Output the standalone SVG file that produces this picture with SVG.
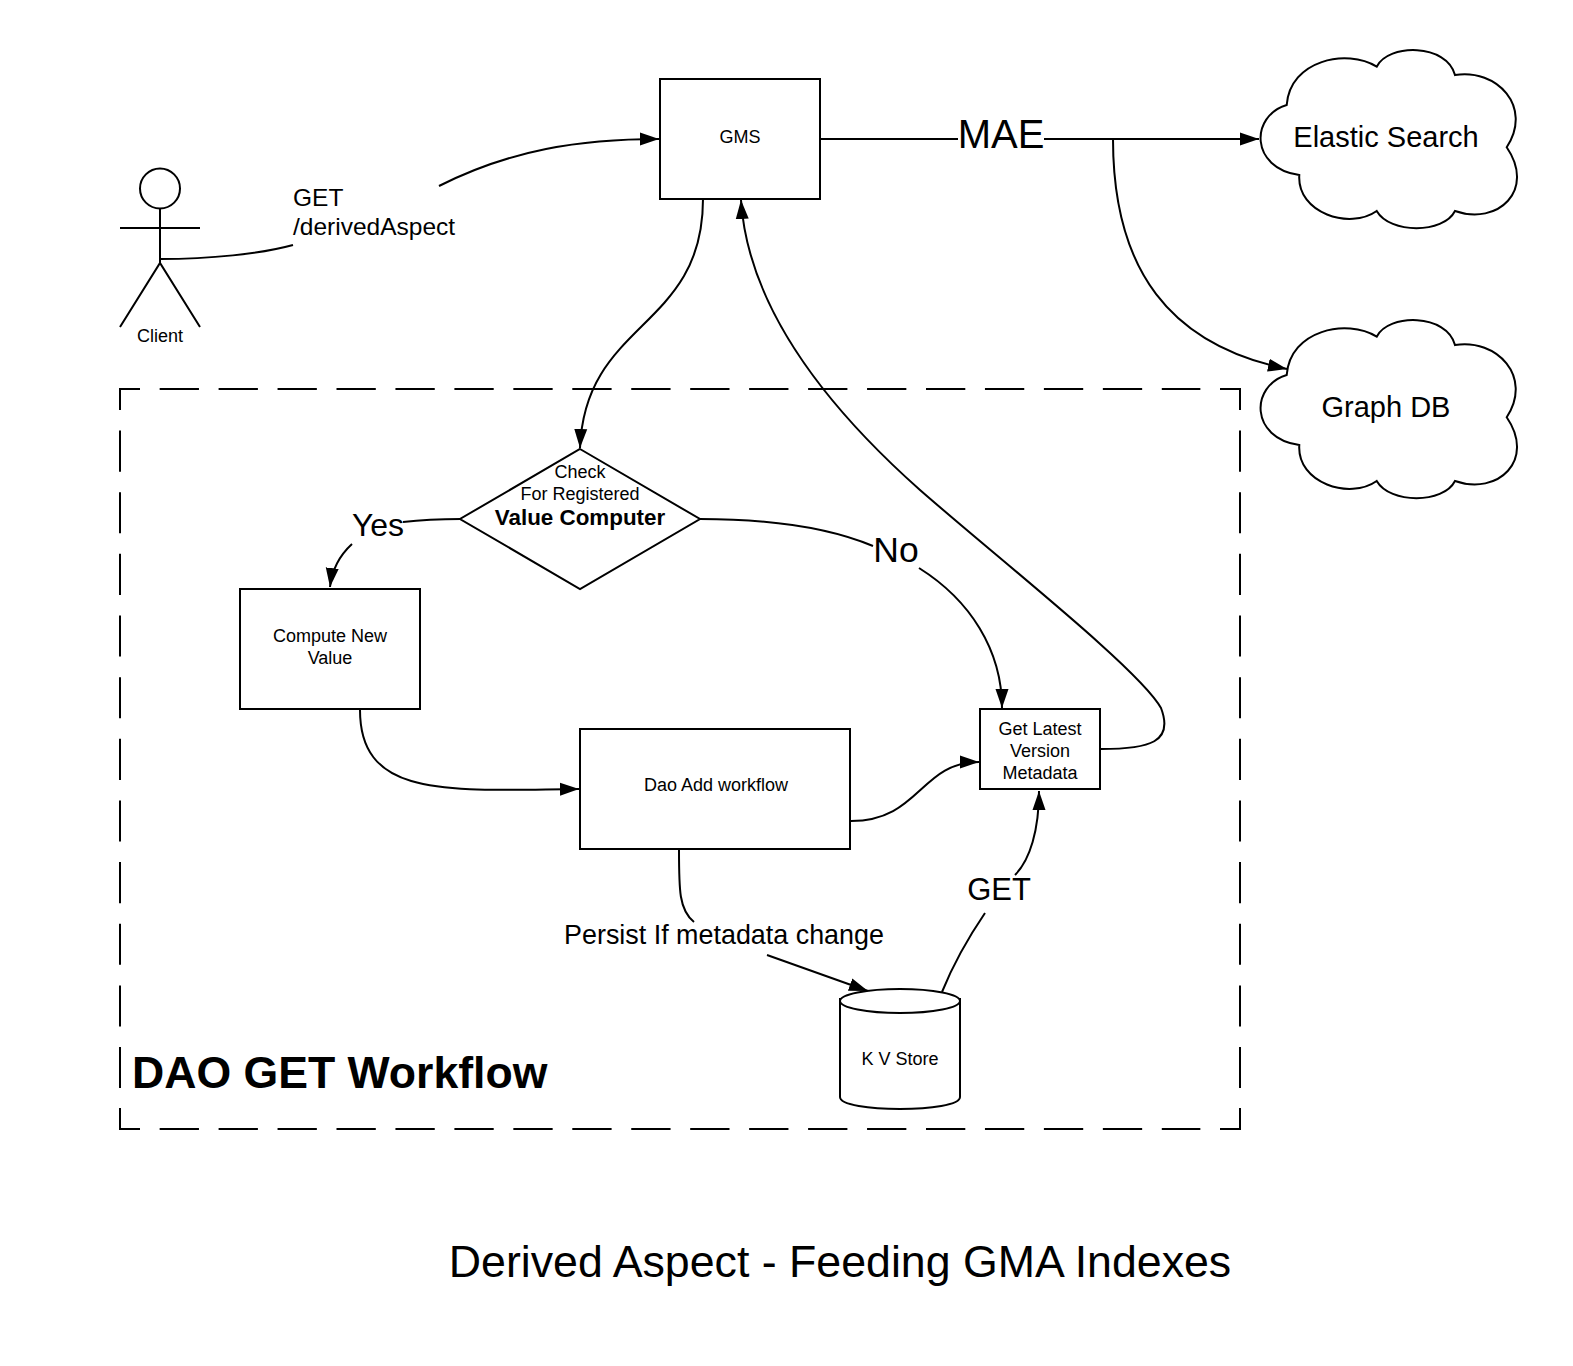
<svg xmlns="http://www.w3.org/2000/svg" width="1573" height="1366" viewBox="0 0 1573 1366">
<style>
text{font-family:"Liberation Sans",Arial,sans-serif;fill:#000;text-anchor:middle}
.s{fill:#fff;stroke:#000;stroke-width:2}
.n{fill:none;stroke:#000;stroke-width:2}
.h{stroke-dasharray:39.3 19.65}
.v{stroke-dasharray:41.1 20.55}
.c{fill:none;stroke:#000;stroke-width:2;marker-end:url(#a)}
.p{fill:none;stroke:#000;stroke-width:2}
.t{font-size:18px}
.l{font-size:24.5px;text-anchor:start}
</style>
<defs>
<marker id="a" markerUnits="userSpaceOnUse" markerWidth="20" markerHeight="14" refX="19" refY="7" orient="auto"><path d="M0 0.5L19 7L0 13.5Z" fill="#000"/></marker>
<path id="cl" d="M1286.7 105C1290 60 1346.7 48.3 1376.7 66.7C1388.3 43.3 1446.7 43.3 1455 75C1496.7 68.3 1533.3 106.7 1506.7 147.3C1536 190 1498 226 1455 211C1443.3 234 1390 234 1376.7 211C1350 230 1296.7 213.3 1299.3 175C1250 168 1250 116 1286.7 105Z"/>
</defs>
<g id="frame">
<path class="n" d="M140 389H120V410M1220 389H1240V410M120 1108V1129H140M1240 1108V1129H1220"/>
<path class="n h" d="M159.65 389H1200.35M159.65 1129H1200.35"/>
<path class="n v" d="M120 430.55V1088M1240 430.55V1088"/>
</g>
<g id="connectors">
<path class="p" d="M160 259C210 259 260 254 293 245"/>
<path class="c" d="M439 186C510 150 580 139 659 139"/>
<path class="p" d="M820 139H958"/>
<path class="c" d="M1044 139H1259"/>
<path class="c" d="M1113 139C1113 270 1170 345 1287 369"/>
<path class="c" d="M703 199C703 330 585 320 580 448"/>
<path class="p" d="M461 519C440 519 420 520 403 522"/>
<path class="c" d="M352 544C340 555 332 570 330 587"/>
<path class="p" d="M700 519C770 519 830 528 873 546"/>
<path class="c" d="M919 568C970 600 1002 650 1002 708"/>
<path class="c" d="M360 710C360 800 450 790 579 789"/>
<path class="c" d="M851 821C920 821 920 762 979 762"/>
<path class="c" d="M1101 749C1150 749 1174 742 1161 708C1140 670 1000 560 920 490C830 410 748 310 741 200"/>
<path class="p" d="M679 850C679 890 679 910 694 922"/>
<path class="c" d="M767 955L868 991"/>
<path class="p" d="M942 992C955 960 970 935 985 913"/>
<path class="c" d="M1015 875C1030 860 1039 830 1039 791"/>
</g>
<g id="client">
<circle class="n" cx="160" cy="188.500" r="20"/>
<path class="n" d="M160 208V263M120 228H200M120 327L160 263L200 327"/>
<text class="t" x="160" y="342">Client</text>
</g>
<g id="gms"><rect class="s" x="660" y="79" width="160" height="120"/><text class="t" x="740" y="143">GMS</text></g>
<g id="elastic"><use href="#cl" class="s"/><text x="1386" y="147" font-size="29">Elastic Search</text></g>
<g id="graph"><use href="#cl" class="s" y="270"/><text x="1386" y="417" font-size="29">Graph DB</text></g>
<g id="decision"><path class="s" d="M580 449L700 519L580 589L460 519Z"/>
<text class="t" x="580" y="478">Check</text><text class="t" x="580" y="500">For Registered</text><text x="580" y="525" font-size="22.400" font-weight="700">Value Computer</text></g>
<g id="compute"><rect class="s" x="240" y="589" width="180" height="120"/><text class="t"><tspan x="330" y="642">Compute New</tspan><tspan x="330" y="664">Value</tspan></text></g>
<g id="dao"><rect class="s" x="580" y="729" width="270" height="120"/><text class="t" x="716" y="791">Dao Add workflow</text></g>
<g id="latest"><rect class="s" x="980" y="709" width="120" height="80"/><text class="t"><tspan x="1040" y="735">Get Latest</tspan><tspan x="1040" y="757">Version</tspan><tspan x="1040" y="779">Metadata</tspan></text></g>
<g id="kv"><path class="s" d="M840 999V1097C840 1113 960 1113 960 1097V999Z"/><ellipse class="s" cx="900" cy="1001" rx="60" ry="12"/><text class="t" x="900" y="1065">K V Store</text></g>
<g id="labels">
<text class="l" x="293" y="206">GET</text>
<text class="l" x="293" y="235">/derivedAspect</text>
<text x="1001" y="148" font-size="40">MAE</text>
<text x="378" y="536" font-size="32">Yes</text>
<text x="896" y="562" font-size="35.500">No</text>
<text x="724" y="944" font-size="26.900">Persist If metadata change</text>
<text x="999" y="900" font-size="31">GET</text>
<text x="132" y="1088" font-size="44.600" font-weight="700" style="text-anchor:start">DAO GET Workflow</text>
<text x="840" y="1277" font-size="44.700">Derived Aspect - Feeding GMA Indexes</text>
</g>
</svg>
